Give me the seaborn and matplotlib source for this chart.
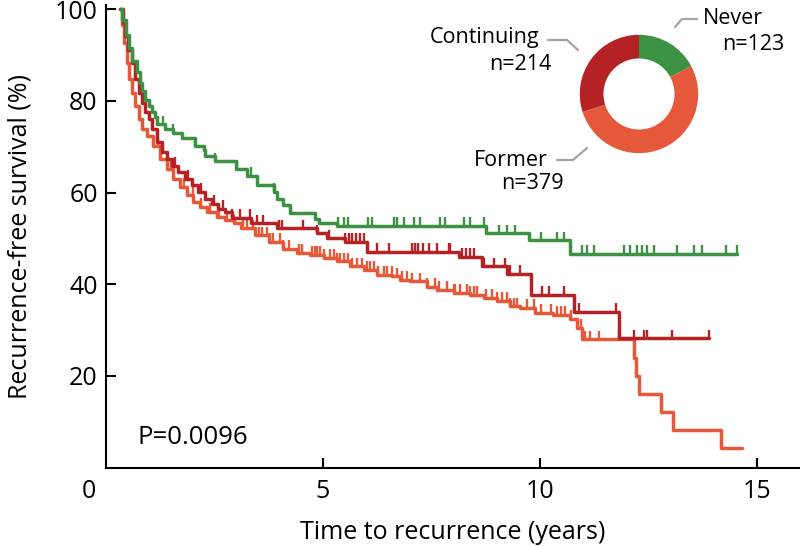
import numpy as np
import pandas as pd
import seaborn as sns
import matplotlib.pyplot as plt
from matplotlib.transforms import ScaledTranslation

# Kaplan-Meier step points (years, % recurrence-free)
never_t = [0.32, 0.38, 0.45, 0.52, 0.60, 0.71, 0.78, 0.84, 0.90, 0.98, 1.05, 1.13, 1.17, 1.36,
           1.55, 1.75, 2.05, 2.25, 2.28, 2.52, 3.0, 3.25, 3.48, 3.87, 3.94, 4.09, 4.25, 4.82,
           4.90, 5.32, 8.75, 9.75, 10.7, 14.55]
never_s = [100, 97.6, 94.3, 91.5, 88.8, 86.4, 84.0, 82.2, 80.3, 79.0, 77.5, 76.4, 74.9, 73.8,
           73.1, 72.0, 70.2, 69.2, 68.1, 66.8, 65.2, 63.7, 61.6, 60.1, 58.7, 57.2, 55.6, 54.3,
           53.3, 52.8, 51.1, 49.6, 46.7, 46.7]
never_cens = [1.32, 1.55, 2.05, 2.52, 3.02, 3.35, 3.87, 5.36, 5.48, 5.59, 6.05, 6.13, 6.63,
              6.71, 6.86, 7.09, 7.25, 7.71, 7.82, 8.25, 8.40, 8.71, 9.05, 9.25, 9.44, 10.02,
              10.40, 10.55, 10.98, 11.09, 11.25, 11.94, 12.09, 12.25, 12.36, 12.48, 12.63,
              13.17, 13.55, 13.75, 14.29, 14.55]

cont_t = [0.32, 0.40, 0.44, 0.51, 0.59, 0.67, 0.75, 0.82, 0.90, 0.98, 1.05, 1.17, 1.29, 1.40,
          1.52, 1.67, 1.82, 1.98, 2.13, 2.28, 2.44, 2.59, 2.75, 2.90, 3.35, 3.94, 4.86, 5.09,
          5.5, 6.02, 8.13, 8.68, 9.25, 9.8, 10.8, 11.82, 13.9]
cont_s = [100, 97.0, 94.1, 91.2, 88.3, 84.7, 81.8, 79.6, 77.5, 76.0, 73.8, 71.0, 68.8, 67.3,
          65.9, 64.5, 63.0, 61.6, 60.1, 58.7, 57.6, 56.5, 55.8, 54.5, 53.3, 52.2, 51.1, 50.0,
          49.3, 47.1, 46.0, 43.9, 42.2, 37.7, 33.9, 28.2, 28.2]
cont_cens = [1.3, 1.6, 1.9, 2.2, 2.5, 2.7, 2.90, 3.09, 3.32, 3.48, 3.63, 3.98, 4.05, 4.55, 4.86,
             5.13, 5.52, 5.6, 5.68, 5.76, 5.85, 5.94, 6.25, 6.52, 7.05, 7.12, 7.2, 7.3, 7.44,
             7.63, 7.9, 7.94, 8.21, 8.3, 8.4, 8.48, 8.71, 8.94, 9.21, 9.32, 9.55, 10.05, 10.21,
             10.55, 10.9, 11.75, 11.82, 12.17, 12.4, 12.48, 13.05, 13.9]

former_t = [0.32, 0.36, 0.42, 0.48, 0.53, 0.59, 0.67, 0.75, 0.82, 0.94, 1.09, 1.25, 1.40, 1.55,
            1.71, 1.86, 2.01, 2.17, 2.32, 2.55, 2.75, 2.94, 3.12, 3.44, 3.75, 4.09, 4.40, 4.71,
            5.02, 5.32, 5.63, 5.94, 6.25, 6.6, 6.78, 7.02, 7.4, 7.63, 8.02, 8.40, 8.71, 9.02,
            9.32, 9.55, 9.9, 10.3, 10.7, 10.85, 10.98, 12.17, 12.22, 12.28, 12.79, 13.08,
            14.19, 14.67]
former_s = [100, 96.5, 92.6, 88.3, 84.7, 81.8, 78.9, 76.0, 73.8, 72.4, 70.2, 67.3, 65.2, 63.0,
            61.2, 59.4, 58.0, 56.9, 55.8, 54.7, 54.0, 53.3, 52.2, 50.7, 49.3, 47.8, 46.8, 46.4,
            45.7, 45.0, 43.9, 43.2, 42.1, 41.7, 41.0, 40.6, 39.5, 38.8, 38.1, 37.7, 37.0, 36.3,
            35.2, 34.8, 33.8, 33.3, 32.5, 30.5, 28.0, 24.0, 20.0, 16.1, 12.1, 8.1, 4.2, 4.2]
former_cens = [1.2, 1.5, 1.8, 2.0, 2.2, 2.4, 2.6, 2.8, 2.95, 3.17, 3.25, 3.40, 3.52, 3.59,
               3.71, 3.78, 3.86, 4.02, 4.09, 4.21, 4.44, 4.52, 4.75, 4.82, 4.86, 4.94, 5.02,
               5.17, 5.25, 5.32, 5.40, 5.48, 5.59, 5.67, 5.78, 5.90, 6.02, 6.09, 6.17, 6.28,
               6.40, 6.48, 6.59, 6.71, 6.82, 6.94, 7.05, 7.25, 7.40, 7.59, 7.67, 7.86, 8.02,
               8.05, 8.17, 8.32, 8.40, 8.48, 8.55, 8.75, 8.90, 9.02, 9.13, 9.25, 9.32, 9.40,
               9.48, 9.71, 9.86, 10.02, 10.25, 10.40, 10.48, 10.59, 10.71, 10.94, 11.05,
               11.17, 11.36]

groups = ["Never", "Former", "Continuing"]
counts = [123, 379, 214]
colors = {"Never": "#3d9142", "Former": "#e5583a", "Continuing": "#b42226"}
p_text = "P=0.0096"

curves = {
    "Former": (former_t, former_s, former_cens),
    "Continuing": (cont_t, cont_s, cont_cens),
    "Never": (never_t, never_s, never_cens),
}

sns.set_style("ticks")
plt.rcParams['font.family'] = ['Open Sans', 'DejaVu Sans']
plt.rcParams['text.color'] = 'black'
plt.rcParams['axes.labelcolor'] = 'black'

fig = plt.figure(figsize=(8, 5.47), dpi=100)
ax = fig.add_axes([0.1325, 0.1453, 0.8675, 0.846])

for name, (t, s, cens) in curves.items():
    df = pd.DataFrame({"time": t, "surv": s})
    sns.lineplot(data=df, x="time", y="surv", ax=ax, color=colors[name],
                 drawstyle="steps-post", estimator=None, lw=2.5)
    idx = np.searchsorted(np.array(t), np.array(cens), side="right") - 1
    sv = np.array(s)[idx]
    ax.vlines(cens, sv, sv + 1.9, color=colors[name], lw=1.7)

ax.set_xlim(0, 16)
ax.set_ylim(0, 101)
ax.set_xticks([0, 5, 10, 15])
ax.set_yticks([20, 40, 60, 80, 100])
ax.tick_params(direction="in", length=7, width=1.5, labelsize=18, colors="black")
ax.tick_params(axis="x", pad=8)
ax.tick_params(axis="y", pad=6)
ax.xaxis.get_major_ticks()[0].tick1line.set_visible(False)
lab0 = ax.get_xticklabels()[0]
lab0.set_transform(lab0.get_transform() + ScaledTranslation(-0.17, 0, fig.dpi_scale_trans))
sns.despine(ax=ax)
for sp in ax.spines.values():
    sp.set_linewidth(1.5)
    sp.set_color("black")
ax.set_xlabel("Time to recurrence (years)", fontsize=18, labelpad=12)
ax.set_ylabel("Recurrence-free survival (%)", fontsize=18, labelpad=16)
ax.text(0.72, 6.6, p_text, fontsize=18.5, va="center", ha="left")

# donut of group sizes
pax = fig.add_axes([0.70625, 0.6929, 0.185, 0.2706])
pax.pie(counts, colors=[colors[g] for g in groups], startangle=90, counterclock=False,
        wedgeprops=dict(width=0.4, linewidth=0))
pax.set_aspect("equal")

W, H = 800, 547
def fx(x):
    return x / W
def fy(y):
    return 1 - y / H

lab_fs = 15.5
fig.text(fx(539), fy(38), "Continuing", fontsize=lab_fs, ha="right", va="center")
fig.text(fx(551), fy(64), "n=214", fontsize=lab_fs, ha="right", va="center")
fig.text(fx(703), fy(18), "Never", fontsize=lab_fs, ha="left", va="center")
fig.text(fx(784), fy(44), "n=123", fontsize=lab_fs, ha="right", va="center")
fig.text(fx(548), fy(161), "Former", fontsize=lab_fs, ha="right", va="center")
fig.text(fx(564), fy(184), "n=379", fontsize=lab_fs, ha="right", va="center")

leaders = [
    [(548, 40), (567, 40), (578, 50)],
    [(675, 27), (682, 19), (697, 19)],
    [(557, 160), (573, 160), (587, 148)],
]
for pts in leaders:
    xs = [fx(p[0]) for p in pts]
    ys = [fy(p[1]) for p in pts]
    fig.add_artist(plt.Line2D(xs, ys, color="#a3a3a3", lw=1.6))

fig.savefig("out.png", dpi=100)
